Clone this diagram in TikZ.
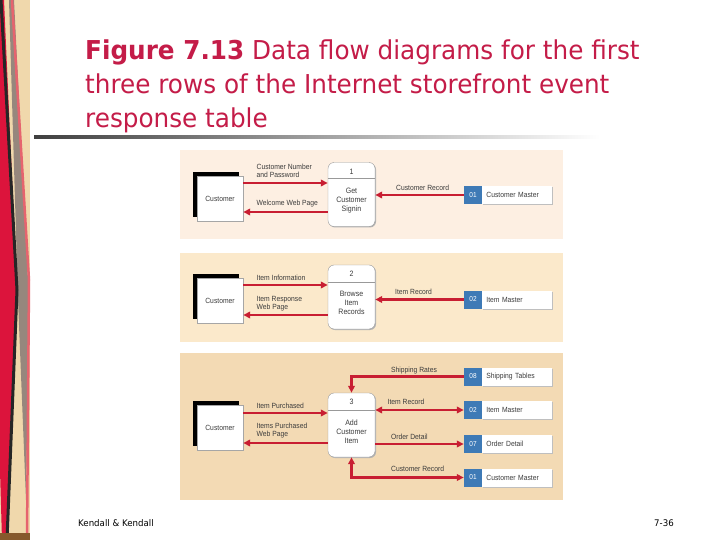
\documentclass[tikz,border=0pt]{standalone}
\usepackage{fontspec}
\setmainfont{DejaVu Sans}
\newfontfamily\dfd[FakeStretch=0.9]{Liberation Sans}
\newfontfamily\ttl[FakeStretch=0.95]{DejaVu Sans}
\usetikzlibrary{arrows.meta,calc,shadows}
\definecolor{flowred}{RGB}{200,30,50}
\definecolor{storeblue}{RGB}{62,122,182}
\definecolor{panelA}{RGB}{253,239,226}
\definecolor{panelB}{RGB}{251,233,203}
\definecolor{panelC}{RGB}{243,218,180}
\definecolor{titlered}{RGB}{196,28,72}
\definecolor{txtgray}{RGB}{60,60,60}
\definecolor{stripbeige}{RGB}{240,216,172}
\definecolor{stripred}{RGB}{220,20,60}
\definecolor{stripgray}{RGB}{150,135,125}
\definecolor{strippink}{RGB}{230,100,110}
\tikzset{
  flow/.style={draw=flowred, line width=2.2pt, -{Triangle[length=7pt,width=6.5pt]}},
  flowboth/.style={draw=flowred, line width=2.2pt, {Triangle[length=7pt,width=6.5pt]}-{Triangle[length=7pt,width=6.5pt]}},
  lbl/.style={font=\dfd\fontsize{7.5}{8.5}\selectfont, text=txtgray, anchor=base west, inner sep=0pt},
  custbox/.style={draw=gray!70, fill=white, minimum width=46pt, minimum height=45pt, inner sep=0pt,
    font=\dfd\fontsize{7.5}{8.5}\selectfont, text=txtgray,
    general shadow={fill=black, shadow xshift=-4pt, shadow yshift=4pt}},
  procbox/.style={draw=gray!80, fill=white, rounded corners=6pt, minimum width=47pt, minimum height=64pt, inner sep=0pt,
    drop shadow={fill=gray!60, shadow xshift=1pt, shadow yshift=-1pt, opacity=1}},
  proctxt/.style={font=\dfd\fontsize{7.8}{9}\selectfont, text=txtgray, align=center, inner sep=0pt},
  storeid/.style={fill=storeblue, minimum width=18pt, minimum height=18pt, inner sep=0pt,
    font=\dfd\fontsize{7.2}{8}\selectfont, text=white},
  storename/.style={fill=white, minimum width=70pt, minimum height=18pt, inner sep=0pt, text width=62pt, align=left,
    font=\dfd\fontsize{7.5}{8.5}\selectfont, text=txtgray, anchor=west,
    drop shadow={fill=gray!50, shadow xshift=1pt, shadow yshift=-1.2pt, opacity=1}},
  titleline/.style={font=\ttl\fontsize{26}{30}\selectfont, text=titlered, anchor=base west, inner sep=0pt},
  foot/.style={font=\ttl\fontsize{9.1}{10}\selectfont, text=black, inner sep=0pt}
}
\begin{document}
\begin{tikzpicture}[x=1pt,y=-1pt]
\useasboundingbox (0,0) rectangle (720,540);
\fill[white] (0,0) rectangle (720,540);
% left decorative strip
\fill[stripbeige] (0,0) rectangle (30,540);
\fill[stripred] (0,0) -- (4,0) -- (17,290) -- (7,540) -- (2,540) -- (0,470) -- cycle;
\fill[stripgray] (9,0) -- (14,0) -- (29,300) -- (26,500) -- (18,300) -- cycle;
\draw[strippink, line width=2.5pt] (12,0) -- (29,280) -- (27,540);
\draw[black!85, line width=3pt] (1,0) -- (17,290) -- (7,540);
\fill[brown!70!black] (0,533) rectangle (30,540);
% title
\node[titleline] (t1) at (85,60) {\textbf{Figure 7.13} Data flow diagrams for the first};
\node[titleline] (t2) at (85,94) {three rows of the Internet storefront event};
\node[titleline] (t3) at (85,128) {response table};
\shade[left color=black!75, right color=white] (34,135.5) rectangle (600,138.5);
% panels
\fill[panelA] (180,150) rectangle (563,239);
\fill[panelB] (180,253) rectangle (563,342);
\fill[panelC] (180,353) rectangle (563,500);

% ---------- panel 1 ----------
\node[custbox] (c1) at (220,198.5) {Customer};
\node[procbox] (p1) at (351.5,194.5) {};
\draw[gray!80] ($(p1.north west)+(0,16)$) -- ($(p1.north east)+(0,16)$);
\node[proctxt] (p1n) at (351.5,172) {1};
\node[proctxt] (p1t) at (351.5,201) {Get\\Customer\\Signin};
\node[storeid] (s1) at (473,195) {01};
\node[storename] (s1n) at (s1.east) {Customer Master};
\path (c1.east) ++(0,-15.5) coordinate (a1);
\path (c1.east) ++(0,13.5) coordinate (b1);
\draw[flow] (a1) -- (a1 -| p1.west);
\draw[flow] (b1 -| p1.west) -- (b1);
\draw[flow] (s1.west) -- (s1.west -| p1.east);
\node[lbl] (l1a) at (256.5,169.5) {Customer Number};
\node[lbl] (l1b) at (256.5,177.5) {and Password};
\node[lbl] (l1c) at (256.5,205.5) {Welcome Web Page};
\node[lbl] (l1d) at (396,190.5) {Customer Record};

% ---------- panel 2 ----------
\node[custbox] (c2) at (220,300.5) {Customer};
\node[procbox] (p2) at (351.5,297) {};
\draw[gray!80] ($(p2.north west)+(0,17)$) -- ($(p2.north east)+(0,17)$);
\node[proctxt] (p2n) at (351.5,274) {2};
\node[proctxt] (p2t) at (351.5,302.5) {Browse\\Item\\Records};
\node[storeid] (s2) at (473,299.5) {02};
\node[storename] (s2n) at (s2.east) {Item Master};
\path (c2.east) ++(0,-15.5) coordinate (a2);
\path (c2.east) ++(0,14.5) coordinate (b2);
\draw[flow] (a2) -- (a2 -| p2.west);
\draw[flow] (b2 -| p2.west) -- (b2);
\draw[flow] (s2.west) -- (s2.west -| p2.east);
\node[lbl] (l2a) at (256.5,280.5) {Item Information};
\node[lbl] (l2b) at (256.5,301.5) {Item Response};
\node[lbl] (l2c) at (256.5,309.5) {Web Page};
\node[lbl] (l2d) at (395,294) {Item Record};

% ---------- panel 3 ----------
\node[custbox] (c3) at (220,427.5) {Customer};
\node[procbox] (p3) at (351.5,425) {};
\draw[gray!80] ($(p3.north west)+(0,17)$) -- ($(p3.north east)+(0,17)$);
\node[proctxt] (p3n) at (351.5,402) {3};
\node[proctxt] (p3t) at (351.5,431.5) {Add\\Customer\\Item};
\node[storeid] (s3a) at (473,376.5) {08};
\node[storename] (s3an) at (s3a.east) {Shipping Tables};
\node[storeid] (s3b) at (473,410) {02};
\node[storename] (s3bn) at (s3b.east) {Item Master};
\node[storeid] (s3c) at (473,444) {07};
\node[storename] (s3cn) at (s3c.east) {Order Detail};
\node[storeid] (s3d) at (473,477.5) {01};
\node[storename] (s3dn) at (s3d.east) {Customer Master};
\path (c3.east) ++(0,-14.5) coordinate (a3);
\path (c3.east) ++(0,15.5) coordinate (b3);
\draw[flow] (a3) -- (a3 -| p3.west);
\draw[flow] (b3 -| p3.west) -- (b3);
\draw[flow] (s3a.west) -| (p3.north);
\draw[flowboth] (p3.east |- s3b.west) -- (s3b.west);
\draw[flow] (p3.east |- s3c.west) -- (s3c.west);
\draw[flowboth] (p3.south) |- (s3d.west);
\node[lbl] (l3a) at (256.5,408.3) {Item Purchased};
\node[lbl] (l3b) at (256.5,428.3) {Items Purchased};
\node[lbl] (l3c) at (256.5,436.6) {Web Page};
\node[lbl] (l3d) at (391,372.3) {Shipping Rates};
\node[lbl] (l3e) at (387.5,404.6) {Item Record};
\node[lbl] (l3f) at (391,439.6) {Order Detail};
\node[lbl] (l3g) at (391,471.6) {Customer Record};

% footer
\node[foot, anchor=west] (f1) at (78,523) {Kendall \& Kendall};
\node[foot, anchor=east] (f2) at (674,523) {7-36};
\end{tikzpicture}
\end{document}
